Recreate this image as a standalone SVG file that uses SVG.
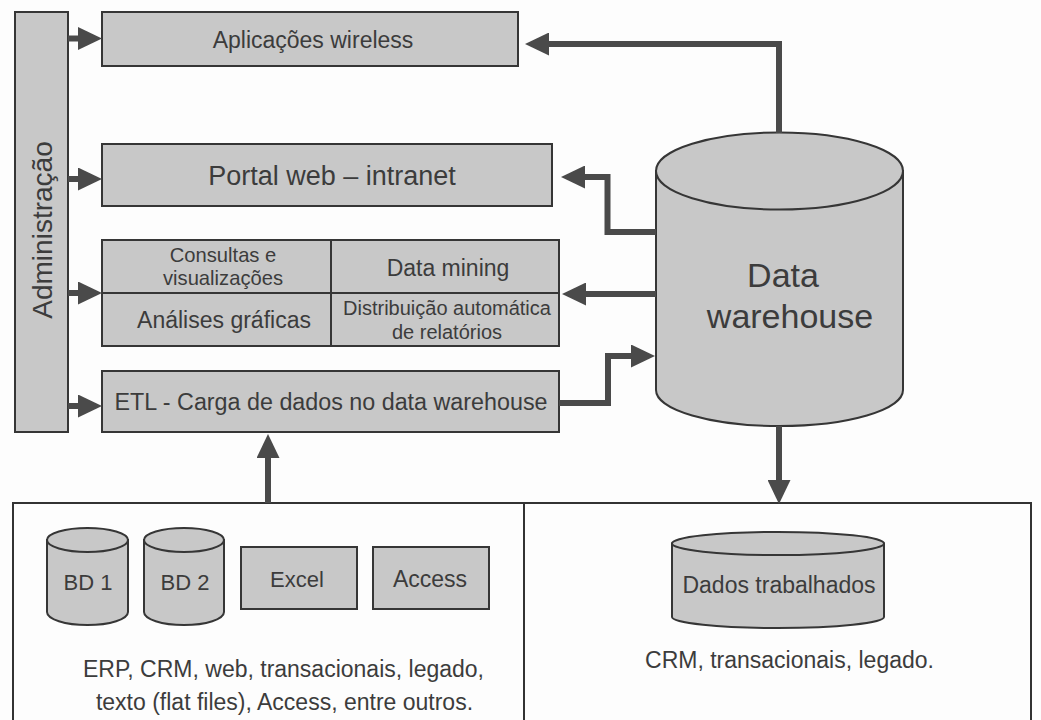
<svg xmlns="http://www.w3.org/2000/svg" width="1041" height="720" viewBox="0 0 1041 720">
<defs>
<style>
.box{fill:#c8c8c8;stroke:#363636;stroke-width:2}
.pane{fill:#fdfdfd;stroke:#333;stroke-width:2}
.div{stroke:#363636;stroke-width:2;fill:none}
.t{font-family:"Liberation Sans",Arial,sans-serif;fill:#3c3c3c;text-anchor:middle}
.conn{fill:none;stroke:#4a4a4a;stroke-width:6;stroke-linejoin:miter;marker-end:url(#ah)}
</style>
<marker id="ah" viewBox="0 0 24 23" refX="0" refY="11.5" markerWidth="24" markerHeight="23" markerUnits="userSpaceOnUse" orient="auto">
<path d="M0,0 L24,11.5 L0,23 Z" fill="#4a4a4a"/>
</marker>
</defs>
<rect width="1041" height="720" fill="#fdfdfd"/>

<g id="admin">
<rect class="box" x="15" y="12" width="53" height="420"/>
<text class="t" transform="translate(52,230) rotate(-90)" font-size="28">Administração</text>
</g>

<g id="wireless">
<rect class="box" x="102" y="12" width="416" height="54"/>
<text class="t" x="313" y="48" font-size="23">Aplicações wireless</text>
</g>

<g id="portal">
<rect class="box" x="102" y="144" width="450" height="62"/>
<text class="t" x="332" y="185" font-size="27">Portal web – intranet</text>
</g>

<g id="tools">
<rect class="box" x="102" y="240" width="457" height="106"/>
<line class="div" x1="331" y1="240" x2="331" y2="346"/>
<line class="div" x1="102" y1="293" x2="559" y2="293"/>
<text class="t" x="223" y="262" font-size="20.2">Consultas e</text>
<text class="t" x="223" y="285" font-size="20.2">visualizações</text>
<text class="t" x="448" y="276" font-size="23">Data mining</text>
<text class="t" x="224" y="328" font-size="23">Análises gráficas</text>
<text class="t" x="447" y="315" font-size="20">Distribuição automática</text>
<text class="t" x="447" y="339" font-size="20">de relatórios</text>
</g>

<g id="etl">
<rect class="box" x="102" y="371" width="457" height="61"/>
<text class="t" x="331" y="410" font-size="23.3">ETL - Carga de dados no data warehouse</text>
</g>

<g id="dw">
<path class="box" d="M656,171 V390 A123.5,36 0 0 0 903,390 V171 Z"/>
<ellipse class="box" cx="779.5" cy="171" rx="123.5" ry="38.5"/>
<text class="t" x="783" y="287" font-size="34">Data</text>
<text class="t" x="790" y="328" font-size="34">warehouse</text>
</g>

<g id="sources">
<rect class="pane" x="13" y="503" width="511" height="225"/>
<g id="bd1">
<path class="box" d="M47,540 V612 A40.5,13 0 0 0 128,612 V540 Z"/>
<ellipse class="box" cx="87.5" cy="540" rx="40.5" ry="12"/>
<text class="t" x="88" y="590" font-size="22">BD 1</text>
</g>
<g id="bd2">
<path class="box" d="M144,540 V612 A40,13 0 0 0 224,612 V540 Z"/>
<ellipse class="box" cx="184" cy="540" rx="40" ry="12"/>
<text class="t" x="185" y="590" font-size="22">BD 2</text>
</g>
<g id="excel">
<rect class="box" x="241" y="547" width="116" height="62"/>
<text class="t" x="297" y="587" font-size="22">Excel</text>
</g>
<g id="access">
<rect class="box" x="373" y="547" width="116" height="62"/>
<text class="t" x="430" y="587" font-size="23">Access</text>
</g>
<text class="t" x="283.5" y="677" font-size="23">ERP, CRM, web, transacionais, legado,</text>
<text class="t" x="284.5" y="710" font-size="23">texto (flat files), Access, entre outros.</text>
</g>

<g id="worked">
<rect class="pane" x="524" y="503" width="507" height="225"/>
<g id="dados">
<path class="box" d="M672,543.5 V617 A106,11 0 0 0 884,617 V543.5 Z"/>
<ellipse class="box" cx="778" cy="543.5" rx="106" ry="11.5"/>
<text class="t" x="779" y="593" font-size="23">Dados trabalhados</text>
</g>
<text class="t" x="789.5" y="668" font-size="23">CRM, transacionais, legado.</text>
</g>

<g id="connectors">
<path class="conn" d="M68,38.5 H78"/>
<path class="conn" d="M68,179 H78"/>
<path class="conn" d="M68,293 H78"/>
<path class="conn" d="M68,406 H78"/>
<path class="conn" d="M779,133 V44 H549"/>
<path class="conn" d="M656,232 H607.5 V177 H585"/>
<path class="conn" d="M656,294 H586"/>
<path class="conn" d="M559,403 H608 V356 H631"/>
<path class="conn" d="M779,426 V480"/>
<path class="conn" d="M268,503 V458"/>
</g>
</svg>
